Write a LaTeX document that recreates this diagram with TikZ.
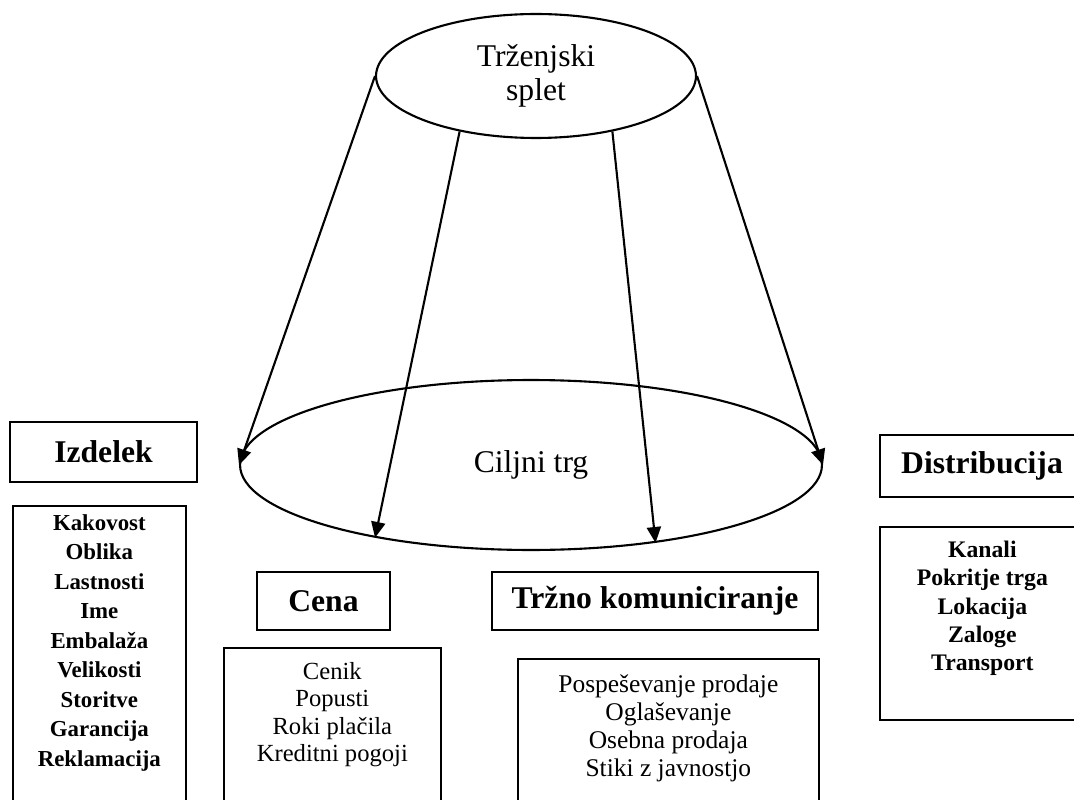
\documentclass[tikz,border=0pt]{standalone}
\usepackage{fontspec}
\setmainfont{Liberation Serif}
\usetikzlibrary{arrows.meta,positioning,shapes.geometric}

\begin{document}
\begin{tikzpicture}[
    x=0.02cm, y=-0.02cm,
    oval/.style={ellipse, draw=black, line width=1.2pt, align=center, font=\fontsize{18}{19}\selectfont},
    head/.style={rectangle, draw=black, line width=1pt, align=center, font=\bfseries\fontsize{18}{21}\selectfont},
    listbox/.style={rectangle, draw=black, line width=1pt, anchor=north west},
    items/.style={align=center, inner sep=0pt},
    arr/.style={-{Triangle[length=9pt,width=8pt]}, line width=1.2pt}
]
\useasboundingbox (0,0) rectangle (1074,800);

% the mix and the target market
\node[oval, minimum width=6.4cm, minimum height=2.48cm] (mix) at (536,76) {Trženjski\\splet};
\node[oval, minimum width=11.64cm, minimum height=3.4cm] (target) at (531,465) {Ciljni trg};

\draw[arr] (mix.west) -- (target.west);
\draw[arr] (mix.-144) -- (target.-155);
\draw[arr] (mix.-36) -- (target.-32);
\draw[arr] (mix.east) -- (target.east);

% the four P's
\node[head, minimum width=3.74cm, minimum height=1.2cm] (product) at (103.5,452) {Izdelek};
\node[head, minimum width=2.66cm, minimum height=1.16cm] (price) at (323.5,601) {Cena};
\node[head, minimum width=6.52cm, minimum height=1.16cm] (promo) at (655,601) {Tržno komuniciranje};
\node[head, minimum width=4.08cm, minimum height=1.24cm] (place) at (982,466) {Distribucija};

% their contents
\node[listbox, minimum width=3.46cm, minimum height=6.5cm] (productList) at (12,505) {};
\node[items, font=\bfseries\fontsize{13}{16.8}\selectfont, below=0.18cm of productList.north] (productItems)
    {Kakovost\\Oblika\\Lastnosti\\Ime\\Embalaža\\Velikosti\\Storitve\\Garancija\\Reklamacija};

\node[listbox, minimum width=4.34cm, minimum height=4cm] (priceList) at (223,647) {};
\node[items, font=\fontsize{14}{15.6}\selectfont, below=0.3cm of priceList.north] (priceItems)
    {Cenik\\Popusti\\Roki plačila\\Kreditni pogoji};

\node[listbox, minimum width=6.02cm, minimum height=4cm] (promoList) at (517,658) {};
\node[items, font=\fontsize{14.5}{16}\selectfont, below=0.33cm of promoList.north] (promoItems)
    {Pospeševanje prodaje\\Oglaševanje\\Osebna prodaja\\Stiki z javnostjo};

\node[listbox, minimum width=4.1cm, minimum height=3.86cm] (placeList) at (879,526) {};
\node[items, font=\bfseries\fontsize{13.5}{16}\selectfont, below=0.3cm of placeList.north] (placeItems)
    {Kanali\\Pokritje trga\\Lokacija\\Zaloge\\Transport};
\end{tikzpicture}
\end{document}
